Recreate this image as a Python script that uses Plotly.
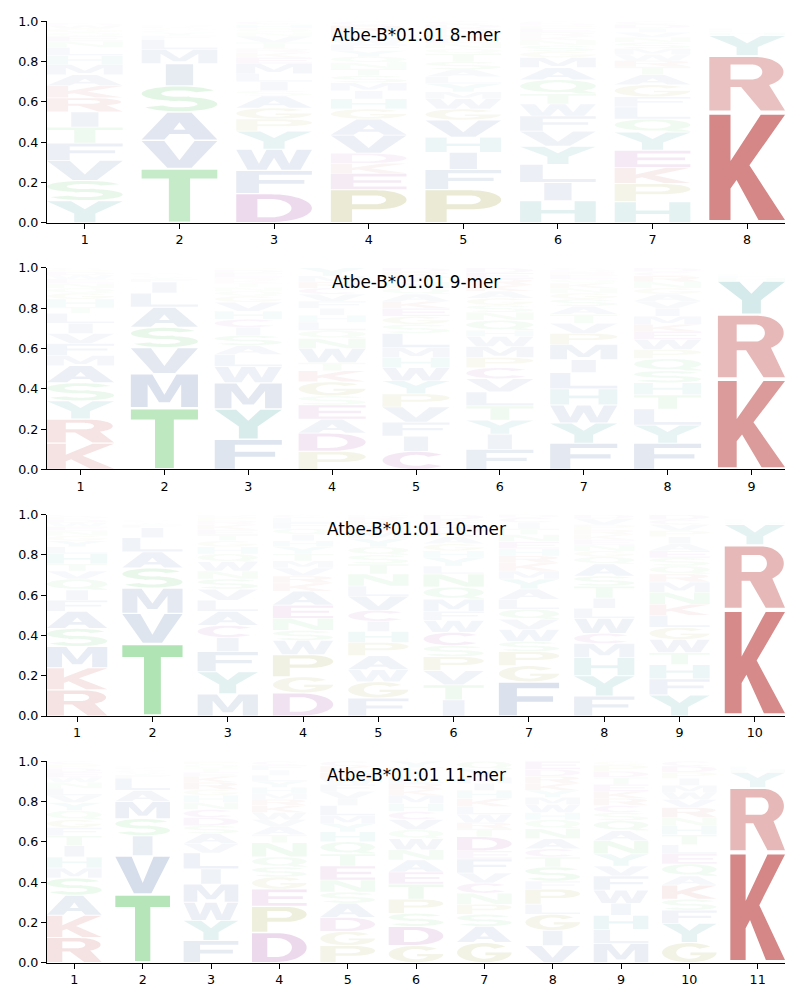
import numpy as np
import plotly.graph_objects as go

# ---------------- data ----------------
allele = "Atbe-B*01:01"
lengths = [8, 9, 10, 11]

# letters listed bottom -> top for each position, with their frequencies
mer8_order = ["YSVFTIRKAMHLNEQGWDPC", "TVASIMLFYCGKRQNHEDWP", "DFWYPGASILMEKRTVNQHC",
              "PEKDVAGHIMSTNQYFWLRC", "PFIHVGWMYLASTQNEKRDC", "HILYVFWTQAMGSNKREPDC",
              "HPKEYQLFGATRWMSNVIDC", "KRYHFLMWIVATSNQEDGPC"]
mer8_freq = [
    [.11, .10, .10, .085, .08, .075, .07, .06, .055, .05, .045, .04, .03, .025, .02, .02, .015, .01, .005, .005],
    [.27, .14, .14, .13, .11, .07, .05, .02, .015, .01, .01, .008, .007, .005, .005, .004, .003, .002, .0005, .0005],
    [.145, .115, .105, .09, .06, .055, .06, .025, .045, .04, .05, .03, .025, .02, .03, .03, .02, .02, .02, .015],
    [.165, .08, .05, .05, .09, .08, .05, .05, .04, .04, .035, .035, .03, .03, .03, .03, .025, .035, .035, .02],
    [.165, .10, .085, .075, .085, .055, .05, .035, .04, .035, .035, .04, .04, .025, .025, .025, .025, .025, .02, .015],
    [.11, .09, .09, .09, .075, .075, .06, .05, .07, .06, .05, .03, .03, .025, .02, .02, .02, .015, .01, .01],
    [.105, .09, .08, .085, .09, .065, .06, .05, .06, .05, .04, .03, .03, .03, .03, .025, .025, .02, .02, .015],
    [.55, .28, .10, .015, .01, .01, .005, .005, .004, .003, .003, .003, .002, .002, .002, .002, .001, .001, .001, .001],
]

mer9_order = ["KRYSAMFVILTHGQNEWDPC", "TMVSALIFYCGKRQNHEDWP", "FYMWLASICHVGQNTKREDP",
              "PDAESGKTWNQLHIFVCRMY", "CIFVPYWHMLSGEKAQNTRD", "FIYTLVCPMWHQNSGAKRED",
              "FYWHLIMPVTASGNKQERDC", "FYLTHSQPWEKMIVAGNRCD", "KRYHFLWMIVATSNQEDGPC"]
mer9_freq = [
    [.13, .12, .09, .09, .085, .05, .06, .05, .05, .05, .03, .04, .03, .025, .025, .02, .02, .015, .01, .01],
    [.305, .17, .13, .10, .10, .07, .055, .015, .01, .008, .007, .006, .005, .004, .004, .003, .003, .002, .002, .001],
    [.15, .15, .13, .08, .06, .045, .05, .04, .04, .04, .045, .03, .025, .02, .02, .015, .015, .02, .015, .01],
    [.09, .09, .07, .07, .045, .07, .055, .04, .07, .05, .04, .04, .035, .035, .035, .035, .03, .03, .03, .04],
    [.09, .075, .07, .075, .065, .065, .065, .05, .05, .07, .045, .04, .04, .035, .035, .03, .03, .025, .025, .02],
    [.10, .075, .07, .07, .07, .065, .055, .05, .055, .05, .03, .05, .04, .035, .035, .035, .03, .03, .03, .025],
    [.13, .10, .09, .08, .08, .065, .075, .055, .05, .045, .04, .035, .03, .025, .025, .02, .02, .015, .01, .01],
    [.13, .09, .08, .07, .06, .06, .06, .045, .05, .04, .035, .04, .04, .035, .035, .03, .03, .03, .02, .02],
    [.45, .32, .165, .015, .01, .008, .005, .004, .003, .003, .003, .002, .002, .002, .002, .002, .001, .001, .001, .001],
]

mer10_order = ["RKMSAFIQVTHLYGNEWDPC", "TVMSALIFYCGKRQNHEDWP", "MYFICALVSNWQHGTEKRPD",
               "DGPWSNEAKRVMTYHIQFLC", "FGWAPHICVLNTSQYMEKRD", "ITVPSCWFMQNLYHGAKRED",
               "FGPSWVQLAYMKRHENTICD", "FYHMCWLITSAQGNEKRPVD", "YFHTWGLKNMRQSEAIPVCD",
               "KRYHFLWMIVATSNQEDGPC"]
mer10_freq = [
    [.13, .11, .105, .09, .085, .055, .05, .055, .04, .035, .05, .035, .03, .025, .025, .02, .02, .015, .015, .01],
    [.36, .15, .125, .10, .08, .07, .05, .015, .01, .008, .006, .005, .004, .004, .003, .003, .003, .002, .001, .001],
    [.11, .11, .10, .07, .06, .07, .055, .055, .05, .04, .045, .04, .035, .03, .03, .025, .025, .02, .02, .01],
    [.115, .08, .11, .07, .05, .06, .065, .07, .04, .035, .04, .035, .035, .035, .03, .03, .03, .03, .025, .015],
    [.09, .08, .06, .07, .065, .055, .05, .055, .07, .05, .06, .05, .045, .04, .04, .035, .03, .025, .02, .01],
    [.08, .075, .07, .07, .055, .065, .06, .045, .06, .06, .065, .04, .04, .035, .035, .035, .03, .03, .025, .025],
    [.17, .08, .07, .05, .06, .05, .05, .05, .05, .05, .04, .04, .035, .035, .035, .035, .03, .03, .025, .015],
    [.10, .10, .09, .07, .05, .075, .05, .05, .06, .05, .06, .035, .03, .03, .025, .025, .025, .025, .03, .02],
    [.105, .08, .07, .06, .065, .06, .06, .055, .06, .05, .04, .04, .04, .035, .035, .035, .03, .03, .025, .025],
    [.53, .32, .10, .012, .008, .006, .004, .003, .003, .002, .002, .002, .002, .001, .001, .001, .001, .001, .0005, .0005],
]

mer11_order = ["RKASMHITFGQYVLNWEDPC", "TVISMALFYCGKRQNHEDWP", "FYWMILVASDCNHGRKETQP",
               "DPEGSQNTAVWKRMHYLIFC", "PGDASNETQHYMLIVFWRKC", "GDSPTEANWQVCHMKRLIFY",
               "GASPNCVFEDTRWLKHIMYQ", "VIGLPFSTCANQHWMYKRDE", "MLHIWFVYNAQSCRKETDPG",
               "GYFSKAQELTHNRVWMIPDC", "KRYHFLWMIVATSNQEDGPC"]
mer11_freq = [
    [.125, .11, .10, .085, .05, .055, .055, .05, .04, .04, .045, .04, .035, .035, .03, .025, .025, .02, .02, .015],
    [.34, .19, .10, .085, .085, .055, .06, .015, .012, .01, .008, .007, .006, .005, .005, .004, .004, .003, .003, .003],
    [.11, .10, .09, .09, .075, .08, .045, .05, .04, .04, .04, .035, .035, .03, .035, .03, .02, .02, .02, .015],
    [.15, .13, .085, .06, .05, .05, .07, .04, .04, .035, .035, .035, .03, .03, .03, .03, .03, .025, .025, .02],
    [.085, .07, .07, .07, .055, .06, .07, .06, .06, .05, .04, .04, .05, .035, .035, .035, .03, .03, .03, .025],
    [.085, .095, .065, .07, .075, .06, .06, .05, .055, .045, .05, .04, .04, .04, .03, .03, .03, .025, .025, .03],
    [.10, .08, .06, .05, .055, .05, .05, .07, .04, .07, .04, .03, .04, .04, .04, .04, .035, .03, .04, .04],
    [.085, .075, .08, .05, .075, .04, .07, .05, .04, .05, .05, .045, .035, .04, .035, .035, .035, .035, .035, .04],
    [.095, .07, .07, .06, .065, .07, .05, .06, .065, .05, .05, .04, .035, .035, .035, .035, .035, .03, .03, .02],
    [.10, .095, .065, .055, .07, .045, .06, .05, .045, .05, .045, .04, .05, .04, .035, .035, .035, .03, .03, .025],
    [.55, .32, .075, .015, .01, .008, .005, .004, .003, .002, .002, .001, .001, .001, .001, .001, .0005, .0005, .0005, .0005],
]

panels = [(mer8_order, mer8_freq), (mer9_order, mer9_freq),
          (mer10_order, mer10_freq), (mer11_order, mer11_freq)]

# ---------------- style ----------------
base_rgb = {
    "red": (178, 34, 34), "teal": (0, 128, 128), "green": (40, 180, 50),
    "olive": (128, 128, 0), "purple": (128, 0, 128), "blue": (40, 80, 150),
}
letter_group = {}
for c in "KR": letter_group[c] = "red"
for c in "HY": letter_group[c] = "teal"
for c in "STNQ": letter_group[c] = "green"
for c in "PG": letter_group[c] = "olive"
for c in "DEC": letter_group[c] = "purple"
for c in "AVLIMFW": letter_group[c] = "blue"


def ell(cx, cy, rx, ry, a0, a1, n=30):
    t = np.radians(np.linspace(a0, a1, n))
    return [(cx + rx * np.cos(a), cy + ry * np.sin(a)) for a in t]


def build_glyphs():
    g = {}
    g["A"] = [([(0, 0), (0.34, 1), (0.66, 1), (1, 0), (0.7, 0), (0.63, 0.2), (0.37, 0.2), (0.3, 0)], False),
              ([(0.42, 0.36), (0.58, 0.36), (0.5, 0.64)], True)]
    g["C"] = [(ell(.5, .5, .5, .5, 40, 320) + ell(.5, .5, .24, .32, 320, 40), False)]
    g["D"] = [([(0, 0), (0, 1), (0.45, 1)] + ell(.45, .5, .55, .5, 90, -90) + [(0.45, 0)], False),
              ([(0.28, 0.17), (0.28, 0.83), (0.45, 0.83)] + ell(.45, .5, .28, .33, 90, -90) + [(0.45, 0.17)], True)]
    g["E"] = [([(0, 0), (0, 1), (1, 1), (1, .83), (.3, .83), (.3, .585), (.93, .585), (.93, .415),
                (.3, .415), (.3, .17), (1, .17), (1, 0)], False)]
    g["F"] = [([(0, 0), (0, 1), (1, 1), (1, .83), (.3, .83), (.3, .585), (.9, .585), (.9, .415),
                (.3, .415), (.3, 0)], False)]
    g["G"] = [(ell(.5, .5, .5, .5, 40, 360) + [(0.52, 0.5), (0.52, 0.365)] + ell(.5, .5, .24, .32, 335, 40), False)]
    g["H"] = [([(0, 0), (0, 1), (.28, 1), (.28, .585), (.72, .585), (.72, 1), (1, 1), (1, 0), (.72, 0),
                (.72, .415), (.28, .415), (.28, 0)], False)]
    g["I"] = [([(0.32, 0), (0.32, 1), (0.68, 1), (0.68, 0)], False)]
    g["K"] = [([(0, 0), (0, 1), (.28, 1), (.28, .56), (.68, 1), (1, 1), (.53, .52), (1, 0), (.65, 0),
                (.36, .38), (.28, .30), (.28, 0)], False)]
    g["L"] = [([(0, 0), (0, 1), (.3, 1), (.3, .17), (1, .17), (1, 0)], False)]
    g["M"] = [([(0, 0), (0, 1), (.32, 1), (.5, .38), (.68, 1), (1, 1), (1, 0), (.75, 0), (.75, .7),
                (.58, .15), (.42, .15), (.25, .7), (.25, 0)], False)]
    g["N"] = [([(0, 0), (0, 1), (.3, 1), (.74, .35), (.74, 1), (1, 1), (1, 0), (.7, 0), (.26, .65), (.26, 0)], False)]
    g["P"] = [([(0, 0), (0, 1), (0.6, 1)] + ell(.6, .7, .4, .3, 90, -90) + [(0.28, 0.4), (0.28, 0)], False),
              ([(0.28, 0.56), (0.28, 0.84), (0.58, 0.84)] + ell(.58, .7, .15, .14, 90, -90), True)]
    g["Q"] = [(ell(.5, .55, .5, .45, 0, 360, 48), False),
              (ell(.5, .55, .24, .29, 0, 360, 40), True),
              ([(0.52, 0.25), (0.74, 0.32), (1.0, 0.06), (1.0, 0.0), (0.78, 0.0)], False)]
    g["R"] = [([(0, 0), (0, 1), (0.6, 1)] + ell(.6, .72, .38, .28, 90, -60) +
               [(1, 0), (0.68, 0), (0.42, 0.44), (0.28, 0.44), (0.28, 0)], False),
              ([(0.28, 0.58), (0.28, 0.86), (0.56, 0.86)] + ell(.56, .72, .14, .14, 90, -90), True)]
    g["S"] = [(ell(.5, .71, .5, .29, 25, 300) + ell(.5, .71, .24, .13, 300, 25), False),
              (ell(.5, .29, .5, .29, 120, -155) + ell(.5, .29, .24, .13, -155, 120), False)]
    g["T"] = [([(0, 1), (1, 1), (1, .83), (.64, .83), (.64, 0), (.36, 0), (.36, .83), (0, .83)], False)]
    g["V"] = [([(0, 1), (.3, 1), (.5, .28), (.7, 1), (1, 1), (.66, 0), (.34, 0)], False)]
    g["W"] = [([(0, 1), (.2, 1), (.3, .3), (.4, 1), (.6, 1), (.7, .3), (.8, 1), (1, 1), (.85, 0), (.6, 0),
                (.5, .6), (.4, 0), (.15, 0)], False)]
    g["Y"] = [([(0, 1), (.32, 1), (.5, .62), (.68, 1), (1, 1), (.64, .42), (.64, 0), (.36, 0), (.36, .42)], False)]
    return g


GLYPHS = build_glyphs()


def oriented(poly, hole):
    pts = np.array(poly, dtype=float)
    x, y = pts[:, 0], pts[:, 1]
    area = 0.5 * np.sum(x * np.roll(y, -1) - np.roll(x, -1) * y)
    if (area > 0) == hole:
        pts = pts[::-1]
    return pts


def letter_path(letter, xc, y0, h, width=0.8, vpad=0.05):
    bottom = y0 + h * vpad / 2
    hh = h * (1 - vpad)
    parts = []
    for poly, hole in GLYPHS[letter]:
        pts = oriented(poly, hole)
        X = xc - width / 2 + width * pts[:, 0]
        Y = bottom + hh * pts[:, 1]
        parts.append("M" + "L".join(f"{a:.4f},{b:.4f}" for a, b in zip(X, Y)) + "Z")
    return "".join(parts)


# ---------------- layout ----------------
W, H = 800, 1000
# vertical placement: map target screen pixels to paper fractions
SY0, SYH = 8.75, 982.5


def px_x(s):
    return s / W


def px_y(s):
    return 1 - (s - SY0) / SYH


x_dom = [px_x(47), px_x(785)]
tops = [22, 268, 514, 760]
panel_h = 201

fig = go.Figure()
shapes = []
annotations = []
font = "DejaVu Sans"

for k, ((orders, freqs), L) in enumerate(zip(panels, lengths), start=1):
    xa = "x" if k == 1 else f"x{k}"
    ya = "y" if k == 1 else f"y{k}"
    top = tops[k - 1]
    y_dom = [px_y(top + panel_h), px_y(top)]

    positions = list(range(1, L + 1))
    fig.add_trace(go.Scatter(x=[positions[0]], y=[0], mode="markers",
                             marker=dict(opacity=0), xaxis=xa, yaxis=ya,
                             showlegend=False, hoverinfo="skip"))

    for pos, order, vals in zip(positions, orders, freqs):
        cum = 0.0
        for letter, v in zip(order, vals):
            r, g_, b = base_rgb[letter_group[letter]]
            alpha = min(1.0, max(0.0, v))
            shapes.append(dict(type="path", path=letter_path(letter, pos, cum, v),
                               xref=xa, yref=ya, fillcolor=f"rgba({r},{g_},{b},{alpha:.4f})",
                               line=dict(width=0), fillrule="nonzero", layer="above"))
            cum += v

    axis_common = dict(showline=True, linecolor="black", linewidth=1.1, ticks="outside",
                       ticklen=5, tickwidth=1.1, tickcolor="black", showgrid=False,
                       zeroline=False, tickfont=dict(family=font, size=12.7, color="black"))
    fig.layout[f"xaxis{'' if k == 1 else k}"] = dict(
        domain=x_dom, anchor=ya, range=[0.6, L + 0.4], tickvals=positions,
        ticktext=[str(p) for p in positions], **axis_common)
    fig.layout[f"yaxis{'' if k == 1 else k}"] = dict(
        domain=y_dom, anchor=xa, range=[0, 1], tickvals=[0, .2, .4, .6, .8, 1.0],
        ticktext=["0.0", "0.2", "0.4", "0.6", "0.8", "1.0"], **axis_common)

    annotations.append(dict(text=f"{allele} {L}-mer", x=(x_dom[0] + x_dom[1]) / 2,
                            y=px_y(top + 14), xref="paper", yref="paper",
                            xanchor="center", yanchor="middle", showarrow=False,
                            font=dict(family=font, size=16.8, color="black")))

fig.update_layout(width=W, height=H, margin=dict(l=0, r=0, t=0, b=0),
                  paper_bgcolor="white", plot_bgcolor="white",
                  shapes=shapes, annotations=annotations, showlegend=False,
                  font=dict(family=font))

fig.write_html("out.html")
